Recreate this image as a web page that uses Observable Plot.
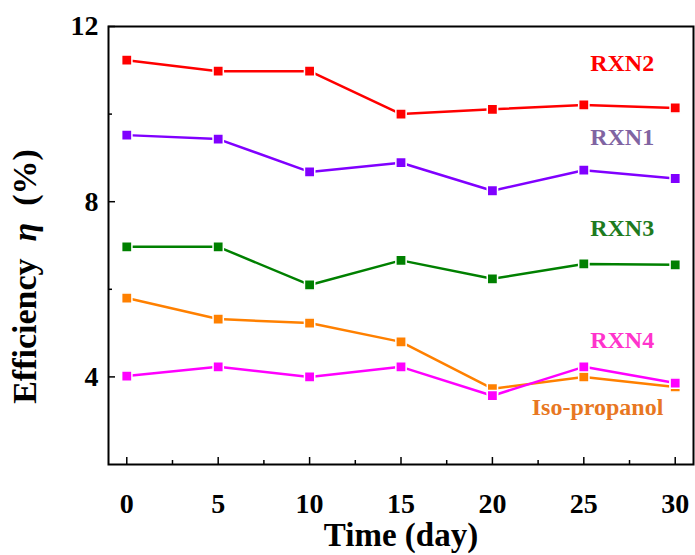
<!DOCTYPE html>
<html><head><meta charset="utf-8">
<script src="https://cdn.jsdelivr.net/npm/d3@7"></script>
<script src="https://cdn.jsdelivr.net/npm/@observablehq/plot@0.6"></script>
<style>body{margin:0;background:#fff}</style>
</head><body><div id="chart"></div>
<script>
const days = [0, 5, 10, 15, 20, 25, 30];
const seriesNames = ["RXN2", "RXN1", "RXN3", "Iso-propanol", "RXN4"];
const rxn2 = [11.23, 10.98, 10.98, 10.0, 10.11, 10.21, 10.14];
const rxn1 = [9.52, 9.43, 8.68, 8.89, 8.25, 8.72, 8.53];
const rxn3 = [6.97, 6.97, 6.10, 6.66, 6.24, 6.58, 6.56];
const isoPropanol = [5.80, 5.32, 5.23, 4.80, 3.73, 4.00, 3.77];
const rxn4 = [4.02, 4.23, 4.00, 4.23, 3.57, 4.23, 3.86];
const seriesValues = [rxn2, rxn1, rxn3, isoPropanol, rxn4];
const lineColors = ["#ff0000", "#8000ff", "#008000", "#ff8000", "#ff00ff"];
const labelColors = ["#ff0000", "#8064a2", "#1e7b1e", "#e87722", "#ff33cc"];
const labelX = [27.1, 27.1, 27.1, 25.75, 27.1];
const labelY = [11.16, 9.47, 7.40, 3.31, 4.84];
const xTicks = [0, 5, 10, 15, 20, 25, 30];
const xMinorTicks = [2.5, 7.5, 12.5, 17.5, 22.5, 27.5];
const yTicks = [4, 8, 12];
const yMinorTicks = [6, 10];
const xTitle = "Time (day)";
const yTitle = "Efficiency\u00a0 η\u00a0 (%)";

const rows = [];
seriesNames.forEach((s, i) => days.forEach((d, j) => rows.push({series: s, day: d, value: seriesValues[i][j]})));
const labels = seriesNames.map((s, i) => ({series: s, x: labelX[i], y: labelY[i], color: labelColors[i]}));

const W = 695, H = 555, mL = 108, mR = 2, mT = 26, mB = 91;
const pw = W - mL - mR, ph = H - mT - mB;

const chart = Plot.plot({
  width: W, height: H,
  marginLeft: mL, marginRight: mR, marginTop: mT, marginBottom: mB,
  style: {fontFamily: "Liberation Serif", background: "white", overflow: "visible"},
  x: {domain: [-1, 31], axis: null},
  y: {domain: [2, 12], axis: null},
  color: {domain: seriesNames, range: lineColors},
  marks: [
    Plot.text(xTicks, {x: d => d, text: d => String(d), frameAnchor: "bottom", lineAnchor: "middle", dy: 40, fontSize: 28, fontWeight: "bold", fill: "black"}),
    Plot.text(yTicks, {y: d => d, text: d => String(d), frameAnchor: "left", textAnchor: "end", lineAnchor: "middle", dx: -10, fontSize: 28, fontWeight: "bold", fill: "black"}),
    Plot.tickX(xTicks, {x: d => d, insetTop: ph - 7, stroke: "black", strokeWidth: 1.5}),
    Plot.tickX(xMinorTicks, {x: d => d, insetTop: ph - 4, stroke: "black", strokeWidth: 1.5}),
    Plot.tickY(yTicks, {y: d => d, insetRight: pw - 7, stroke: "black", strokeWidth: 1.5}),
    Plot.tickY(yMinorTicks, {y: d => d, insetRight: pw - 4, stroke: "black", strokeWidth: 1.5}),
    Plot.frame({stroke: "black", strokeWidth: 2}),
    Plot.line(rows, {x: "day", y: "value", z: "series", stroke: "series", strokeWidth: 2.5}),
    Plot.dot(rows, {x: "day", y: "value", fill: "series", symbol: "square", r: 5.8, stroke: "white", strokeWidth: 1.5}),
    Plot.text(labels, {x: "x", y: "y", text: "series", fill: d => d.color, fontSize: 24, fontWeight: "bold", textAnchor: "middle", lineAnchor: "middle"}),
    Plot.text([xTitle], {text: d => d, frameAnchor: "bottom", textAnchor: "middle", lineAnchor: "middle", dy: 71, fontSize: 33, fontWeight: "bold", fill: "black"}),
    Plot.text([yTitle], {text: d => d, frameAnchor: "left", textAnchor: "middle", lineAnchor: "middle", dx: -83, dy: 31, rotate: -90, fontSize: 34, fontWeight: "bold", fill: "black"})
  ]
});
document.getElementById("chart").appendChild(chart);

// italic eta in the y title
d3.select(chart).selectAll("text").each(function () {
  const t = d3.select(this);
  if (t.text() === yTitle) {
    const parts = yTitle.split("η");
    t.text(null);
    t.append("tspan").text(parts[0]);
    t.append("tspan").attr("font-style", "italic").text("η");
    t.append("tspan").text(parts[1]);
  }
});
</script>
</body></html>
